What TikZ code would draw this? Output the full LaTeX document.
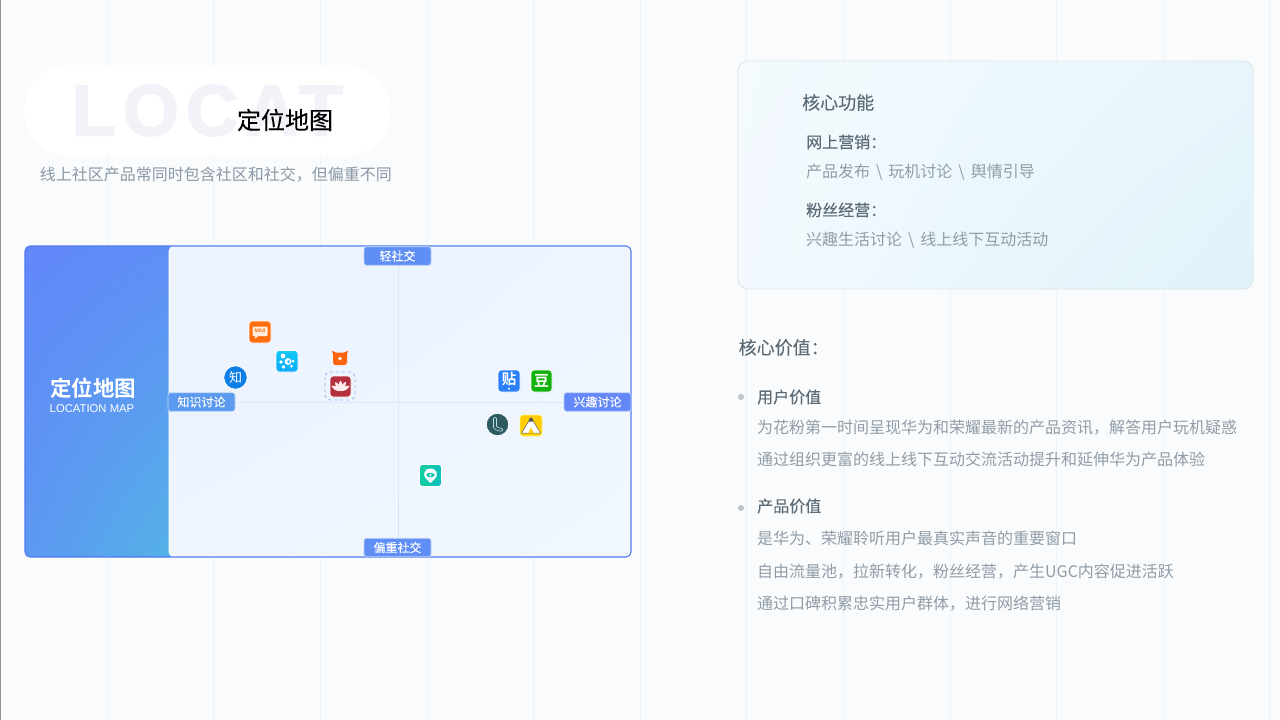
\documentclass[tikz,border=0pt]{standalone}
\usepackage{fontspec}
\setmainfont{Liberation Sans}
\newfontfamily\cjk{Noto Sans CJK SC}
\newfontfamily\cjkm[FakeBold=0.25]{Noto Sans CJK SC}
\newfontfamily\cjkt[FakeBold=0.12]{Noto Sans CJK SC}
\newfontfamily\cjkb{Noto Sans CJK SC Bold}
\newfontfamily\locat[LetterSpace=10,FakeBold=2.5]{Liberation Sans Bold}
\usetikzlibrary{shadings}
\pgfdeclarelayer{tags}
\pgfsetlayers{main,tags}
\definecolor{bgc}{HTML}{F9FBFD}
\definecolor{gridc}{HTML}{EBF4FD}
\definecolor{ghost}{HTML}{F2F3F8}
\definecolor{subc}{HTML}{8A98A5}
\definecolor{headc}{HTML}{5C6B76}
\definecolor{bodyc}{HTML}{919CA6}
\definecolor{axisc}{HTML}{D8E7FC}
\definecolor{frame}{HTML}{4F7BF0}
\definecolor{tagA}{HTML}{5F8FF5}
\definecolor{tagB}{HTML}{5B9AEE}
\definecolor{tagC}{HTML}{6488F8}
\definecolor{orng}{HTML}{FF6E0F}
\definecolor{lpA}{RGB}{98,135,250}
\definecolor{lpB}{RGB}{95,142,247}
\definecolor{lpC}{RGB}{92,152,242}
\definecolor{lpD}{RGB}{84,178,230}
\definecolor{mpA}{RGB}{236,242,254}
\definecolor{mpB}{RGB}{239,245,254}
\definecolor{mpD}{RGB}{240,247,254}
\definecolor{cyA}{RGB}{15,200,245}
\definecolor{cyB}{RGB}{15,170,250}
\definecolor{cyC}{RGB}{15,185,248}
\definecolor{mibun}{RGB}{255,100,15}
\definecolor{zhic}{RGB}{15,127,232}
\definecolor{dashc}{RGB}{140,176,240}
\definecolor{lotus}{RGB}{181,48,63}
\definecolor{tiec}{RGB}{42,128,248}
\definecolor{douc}{RGB}{18,178,14}
\definecolor{lc}{RGB}{45,90,94}
\definecolor{tentc}{RGB}{255,204,0}
\definecolor{chA}{RGB}{16,205,160}
\definecolor{chB}{RGB}{16,190,190}
\definecolor{chC}{RGB}{16,198,175}
\definecolor{cdA}{RGB}{244,250,254}
\definecolor{cdB}{RGB}{231,246,251}
\definecolor{cdC}{RGB}{243,249,254}
\definecolor{cdD}{RGB}{223,243,249}
\definecolor{cdE}{RGB}{222,230,236}
\definecolor{bulc}{RGB}{188,198,206}
\newcommand{\bsl}{\hspace{6pt}\textbackslash\hspace{6pt}}
\tikzset{
  x=1pt,y=-1pt,
  txt/.style={inner sep=0pt,anchor=west,font=\cjk\fontsize{16}{16}\selectfont,text=bodyc},
  head/.style={txt,font=\cjkm\fontsize{16}{16}\selectfont,text=headc},
  big/.style={txt,font=\cjkt\fontsize{18}{18}\selectfont,text=headc},
  tag/.style={inner sep=0pt,rounded corners=2.5pt,draw=white!60!#1,line width=.6pt,fill=#1,text=white,minimum width=67pt,minimum height=18.5pt,font=\cjkt\fontsize{12}{12}\selectfont},
  ico/.style={rounded corners=3pt,draw=white,line width=.8pt},
  icotext/.style={inner sep=0pt,text=white,font=\cjkb\fontsize{#1}{#1}\selectfont},
}
\begin{document}
\begin{tikzpicture}
\useasboundingbox (0,0) rectangle (1280,720);
\fill[bgc] (0,0) rectangle (1280,720);
\fill[gray!85] (0,0) rectangle (1,720);
\foreach \xx in {107,213,320,427,533,640,746,843,950,1056,1163,1269}
  \draw[gridc,line width=.8pt] (\xx,0) -- (\xx,720);
% title pill
\fill[white,rounded corners=45pt] (24,65) rectangle (391,156);
\node[inner sep=0pt,anchor=west,text=ghost,font=\locat\fontsize{72}{72}\selectfont] (ghosttext) at (71.5,110.5) {LOCAT};
\node[inner sep=0pt,font=\cjkm\fontsize{24}{24}\selectfont,text=black] (title) at (285,120) {定位地图};
\node[txt,text=subc] (sub) at (39.7,175) {线上社区产品常同时包含社区和社交，但偏重不同};
% map panel
\begin{scope}
  \clip[rounded corners=5pt] (25,246) rectangle (175,557);
  \shade[upper left=lpA,upper right=lpB,lower left=lpC,lower right=lpD] (25,246) rectangle (175,557);
\end{scope}
\begin{scope}
  \clip[rounded corners=5pt] (169,246.5) rectangle (630.5,556.5);
  \shade[upper left=mpA,upper right=mpB,lower left=mpB,lower right=mpD] (169,246.5) rectangle (630.5,556.5);
\end{scope}
\draw[white,line width=1pt,rounded corners=5pt] (169,246.5) rectangle (630.5,556.5);
\draw[frame,line width=1.1pt,rounded corners=5pt] (25,246) rectangle (631,557);
\node[inner sep=0pt,text=white,font=\cjkb\fontsize{21.5}{22}\selectfont] (ptitle) at (93,388) {定位地图};
\node[inner sep=0pt,text=white,font=\fontsize{11.3}{12}\selectfont] (psub) at (92,408.5) {LOCATION MAP};
% axes
\begin{pgfonlayer}{tags}
\node[tag=tagA] (top) at (397.5,256) {轻社交};
\node[tag=tagA] (bottom) at (397.5,547.5) {偏重社交};
\node[tag=tagB] (left) at (201.5,402) {知识讨论};
\node[tag=tagC] (right) at (597.5,402) {兴趣讨论};
\end{pgfonlayer}
\draw[axisc,line width=.9pt] ([xshift=1pt]top.center) -- ([xshift=1pt]bottom.center);
\draw[axisc,line width=.9pt] (left) -- (right);
% MIUI
\draw[ico,fill=orng] (249,321) rectangle (271,343);
\fill[white!85!orange,rounded corners=1pt] (252.5,326.5) rectangle (267.5,336) (255,335) -- (255,339) -- (259,335) -- cycle;
\node[inner sep=0pt,text=orng,font=\bfseries\fontsize{5}{5}\selectfont] (miui) at (260,331) {MIUI};
% triple dots
\shade[ico,top color=cyA,bottom color=cyB] (276,350.5) rectangle (298,372);
\fill[white] (283,356) circle (2.4) (281,362) circle (1.8) (283.5,367) circle (1.8) (288,361.5) circle (3.4) (293,361) circle (1.5) (291.5,366) circle (1.5);
\fill[cyC] (288.5,361.5) circle (1.5);
% mi bunny
\fill[mibun] (333.2,355) -- (331.8,350.5) -- (336.5,353) -- cycle (346.8,355) -- (348.2,350.5) -- (343.5,353) -- cycle;
\fill[mibun,rounded corners=2.5pt] (333,352.5) rectangle (347,365);
\fill[white] (340,358.5) circle (1.9);
% zhi
\node[circle,draw=white,line width=.8pt,fill=zhic,minimum size=23.5pt,inner sep=0pt,text=white,font=\cjk\fontsize{13}{13}\selectfont] (zhi) at (235.5,377.5) {知};
% lotus
\draw[dashc,dashed,line width=.8pt,rounded corners=5pt] (325,372) rectangle (355,400);
\draw[ico,fill=lotus] (330,376) rectangle (351,397);
\foreach \aa in {-60,-30,0,30,60}
  \fill[white!92!red,rotate around={\aa:(340.5,391)}] (340.5,391) .. controls (337.7,387) and (338.5,383) .. (340.5,380.5) .. controls (342.5,383) and (343.3,387) .. (340.5,391);
% tie
\draw[ico,fill=tiec] (498,370) rectangle (520,392);
\node[icotext=14.5] (tie) at (509,379) {贴};
\fill[white] (509,388.7) circle (1.1);
% dou
\draw[ico,fill=douc] (531,370) rectangle (552,392);
\node[icotext=15] (dou) at (541.5,381) {豆};
% L
\node[circle,draw=white,line width=.8pt,fill=lc,minimum size=22.5pt,inner sep=0pt] (lcirc) at (497.5,424.5) {};
\draw[white!75!teal,line width=.6pt,rounded corners=1pt] (493.5,417.5) -- (496.5,417.5) -- (496.5,427) -- (503,429) -- (502,431.5) -- (496,430) -- (493.5,428) -- cycle;
% tent
\draw[ico,draw=white!50!yellow,fill=tentc] (520,415) rectangle (542,436);
\fill[white] (531,417.5) -- (535,424) -- (540.5,433) -- (521.5,433) -- (527,424) -- cycle;
\fill[black!65] (529.7,418) -- (532.3,418) -- (533.5,421.5) -- (528.5,421.5) -- cycle;
\draw[black!65,line width=.5pt] (531,417.5) -- (540.5,433) -- (521.5,433) -- cycle;
\fill[tentc] (531,427.5) -- (533.7,433) -- (528.3,433) -- cycle;
% chat
\shade[ico,left color=chA,right color=chB] (419.5,464.5) rectangle (441.5,486.5);
\fill[white] (430.5,468.5) .. controls (423.5,468.5) and (422.5,476) .. (426,478.5) -- (430.5,483) -- (435,478.5) .. controls (438.5,476) and (437.5,468.5) .. (430.5,468.5);
\fill[chC] (426,475) .. controls (428,472) and (433,472) .. (435,475) .. controls (433,478) and (428,478) .. (426,475);
\fill[white] (430.5,475) circle (1.2);
% function card
\begin{scope}
\clip[rounded corners=10pt] (738,61) rectangle (1253,289);
\shade[upper left=cdA,upper right=cdB,lower left=cdC,lower right=cdD] (738,61) rectangle (1253,289);
\end{scope}
\draw[cdE,line width=.9pt,rounded corners=10pt] (738,61) rectangle (1253,289);
\node[big] (f0) at (802,102.5) {核心功能};
\node[head] (f1) at (806,142) {网上营销：};
\node[txt] (f2) at (806,172.5) {产品发布\bsl 玩机讨论\bsl 舆情引导};
\node[head] (f3) at (806,210) {粉丝经营：};
\node[txt] (f4) at (806,240.5) {兴趣生活讨论\bsl 线上线下互动活动};
% values
\node[big] (v0) at (738.5,347.5) {核心价值：};
\fill[bulc] (741,397) circle (3) (741,508) circle (3);
\node[head] (v1) at (757,397) {用户价值};
\node[txt] (v2) at (757,427.5) {为花粉第一时间呈现华为和荣耀最新的产品资讯，解答用户玩机疑惑};
\node[txt] (v3) at (757,459.5) {通过组织更富的线上线下互动交流活动提升和延伸华为产品体验};
\node[head] (v4) at (757,506) {产品价值};
\node[txt] (v5) at (757,538.5) {是华为、荣耀聆听用户最真实声音的重要窗口};
\node[txt] (v6) at (757,571.5) {自由流量池，拉新转化，粉丝经营，产生UGC内容促进活跃};
\node[txt] (v7) at (757,603.5) {通过口碑积累忠实用户群体，进行网络营销};
\end{tikzpicture}
\end{document}
